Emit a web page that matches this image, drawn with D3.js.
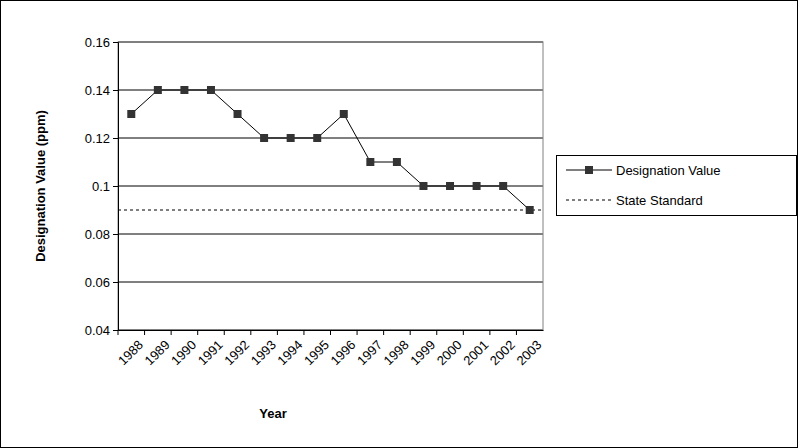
<!DOCTYPE html>
<html><head><meta charset="utf-8">
<script src="https://cdn.jsdelivr.net/npm/d3@7"></script>
<style>body{margin:0;background:#fff}text{font-family:"Liberation Sans",Arial,sans-serif}</style>
</head><body>
<svg id="c" width="798" height="448"></svg>
<script>
var years = ["1988","1989","1990","1991","1992","1993","1994","1995","1996","1997","1998","1999","2000","2001","2002","2003"];
var designation = [0.13,0.14,0.14,0.14,0.13,0.12,0.12,0.12,0.13,0.11,0.11,0.10,0.10,0.10,0.10,0.09];
var stateStandard = 0.09;
var yTicks = [0.04,0.06,0.08,0.1,0.12,0.14,0.16];

var svg = d3.select('#c');
svg.append('rect').attr('x',0.5).attr('y',0.5).attr('width',797).attr('height',447)
  .attr('fill','#fff').attr('stroke','#000');

var L = 118, R = 543, T = 42, B = 330;
var x = d3.scaleBand().domain(years).range([L, R]);
var y = d3.scaleLinear().domain([0.04, 0.16]).range([B, T]);

// grid
svg.selectAll('.grid').data(yTicks).enter().append('line')
  .attr('x1', L).attr('x2', R).attr('y1', function(d){return y(d);}).attr('y2', function(d){return y(d);})
  .attr('stroke', '#000').attr('stroke-width', 1);
svg.append('rect').attr('x', L).attr('y', T).attr('width', R - L).attr('height', B - T)
  .attr('fill', 'none').attr('stroke', '#808080');

var yAxis = svg.append('g').attr('transform', 'translate(' + L + ',0)')
  .call(d3.axisLeft(y).tickValues(yTicks).tickSize(5).tickFormat(function(d){return d3.format('')(+d.toFixed(2));}));
var xAxis = svg.append('g').attr('transform', 'translate(0,' + B + ')')
  .call(d3.axisBottom(x).tickSize(5).tickSizeOuter(0));
xAxis.selectAll('.tick line').attr('transform', 'translate(' + (-x.bandwidth()/2) + ',0)');
svg.selectAll('.domain').attr('stroke', '#000');
yAxis.selectAll('text').attr('font-size', 13).attr('fill', '#000');
xAxis.selectAll('text').attr('font-size', 13).attr('fill', '#000')
  .attr('text-anchor', 'end').attr('dx', '0').attr('dy', '0')
  .attr('transform', 'translate(7,10) rotate(-45)');

// standard
svg.append('line').attr('x1', L).attr('x2', R).attr('y1', y(stateStandard)).attr('y2', y(stateStandard))
  .attr('stroke', '#000').attr('stroke-dasharray', '3,3');

var line = d3.line().x(function(d, i){return x(years[i]) + x.bandwidth()/2;}).y(function(d){return y(d);});
svg.append('path').datum(designation).attr('d', line).attr('fill', 'none').attr('stroke', '#000');
svg.selectAll('.pt').data(designation).enter().append('rect')
  .attr('x', function(d, i){return x(years[i]) + x.bandwidth()/2 - 4;})
  .attr('y', function(d){return y(d) - 4;}).attr('width', 8).attr('height', 8).attr('fill', '#333');

svg.append('text').attr('x', 273).attr('y', 418).attr('text-anchor', 'middle')
  .attr('font-size', 13).attr('font-weight', 'bold').text('Year');
svg.append('text').attr('transform', 'translate(45,' + ((T + B)/2) + ') rotate(-90)')
  .attr('text-anchor', 'middle').attr('font-size', 13).attr('font-weight', 'bold').text('Designation Value (ppm)');

// legend
var lg = svg.append('g');
lg.append('rect').attr('x', 556.5).attr('y', 155.5).attr('width', 240).attr('height', 60)
  .attr('fill', '#fff').attr('stroke', '#000');
lg.append('line').attr('x1', 566).attr('x2', 612).attr('y1', 170).attr('y2', 170).attr('stroke', '#000');
lg.append('rect').attr('x', 585).attr('y', 166).attr('width', 8).attr('height', 8).attr('fill', '#333');
lg.append('line').attr('x1', 566).attr('x2', 612).attr('y1', 200).attr('y2', 200)
  .attr('stroke', '#000').attr('stroke-dasharray', '3,3');
lg.append('text').attr('x', 616).attr('y', 175).attr('font-size', 13).text('Designation Value');
lg.append('text').attr('x', 616).attr('y', 205).attr('font-size', 13).text('State Standard');
</script>
</body></html>
